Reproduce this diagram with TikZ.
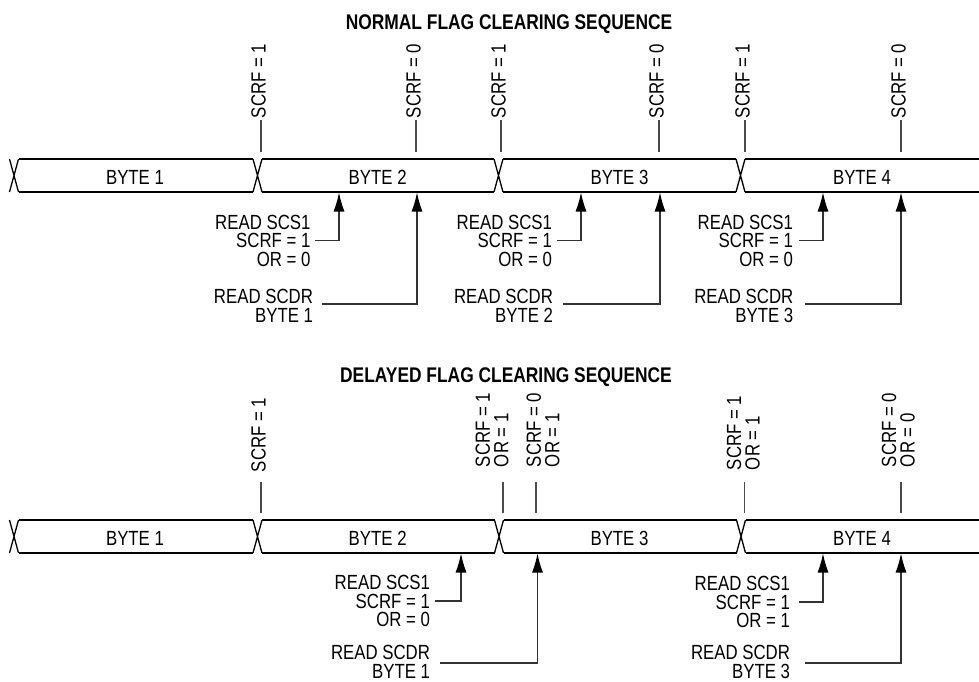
\documentclass[tikz,border=0pt]{standalone}
\usepackage{fontspec}
\setmainfont[FakeStretch=0.82]{Liberation Sans}
\usetikzlibrary{arrows.meta}
\begin{document}
\begin{tikzpicture}[x=1pt,y=-1pt,
  lbl/.style={font=\fontsize{20.5}{18.5}\selectfont, inner sep=0pt, outer sep=0pt},
  rlbl/.style={lbl, align=right, anchor=east},
  vlbl/.style={lbl, align=left, rotate=90, anchor=west},
  ttl/.style={font=\fontsize{21.2}{24}\selectfont\bfseries, inner sep=0pt},
  bus/.style={line width=2pt},
  cross/.style={line width=1.3pt},
  tickln/.style={line width=1.1pt, black!70},
  conn/.style={line width=1.1pt, black!80, -{Latex[length=19pt,width=11pt,color=black]}},
]
\useasboundingbox (0,0) rectangle (979,682);

% ---------------- titles
\node[ttl] (t1) at (509,24.2) {NORMAL FLAG CLEARING SEQUENCE};
\node[ttl] (t2) at (506,377.5) {DELAYED FLAG CLEARING SEQUENCE};

% ---------------- top bus
\draw[cross] (9.5,159) -- (18.5,192) (18.5,159) -- (9.5,192);
\draw[cross] (253,159) -- (262,192) (262,159) -- (253,192);
\draw[cross] (494,159) -- (503,192) (503,159) -- (494,192);
\draw[cross] (736,159) -- (745,192) (745,159) -- (736,192);
\draw[bus] (18.5,159) -- (253,159) (18.5,192) -- (253,192);
\draw[bus] (262,159) -- (494,159) (262,192) -- (494,192);
\draw[bus] (503,159) -- (736,159) (503,192) -- (736,192);
\draw[bus] (745,159) -- (979,159) (745,192) -- (979,192);
\node[lbl] (nb1) at (135,177) {BYTE 1};
\node[lbl] (nb2) at (377.7,177) {BYTE 2};
\node[lbl] (nb3) at (619.5,177) {BYTE 3};
\node[lbl] (nb4) at (862,177) {BYTE 4};

% top ticks and vertical labels
\foreach \x/\v [count=\i] in {261/1,416/0,501/1,659/0,745/1,901/0}{
  \node[vlbl] (nv\i) at (\x-2.5,118) {SCRF = \v};
  \coordinate (nka\i) at (\x,120);
  \coordinate (nkb\i) at (\x,152);
  \draw[tickln] (nka\i) -- (nkb\i);
}

% top read labels
\node[rlbl] (na1) at (310.5,240.5) {READ SCS1\\SCRF = 1\\OR = 0};
\node[rlbl] (nd1) at (313,306) {READ SCDR\\BYTE 1};
\node[rlbl] (na2) at (552,240.5) {READ SCS1\\SCRF = 1\\OR = 0};
\node[rlbl] (nd2) at (553,306) {READ SCDR\\BYTE 2};
\node[rlbl] (na3) at (793,240.5) {READ SCS1\\SCRF = 1\\OR = 0};
\node[rlbl] (nd3) at (793.3,306) {READ SCDR\\BYTE 3};
\coordinate (npa1) at (339,192.5);
\coordinate (npd1) at (417,192.5);
\coordinate (npa2) at (581,192.5);
\coordinate (npd2) at (660,192.5);
\coordinate (npa3) at (823,192.5);
\coordinate (npd3) at (901,192.5);
\draw[conn] ([xshift=4.5pt]na1.east) -| (npa1);
\draw[conn] ([xshift=9pt,yshift=2pt]nd1.east) -| (npd1);
\draw[conn] ([xshift=5pt]na2.east) -| (npa2);
\draw[conn] ([xshift=10pt,yshift=2pt]nd2.east) -| (npd2);
\draw[conn] ([xshift=6pt]na3.east) -| (npa3);
\draw[conn] ([xshift=11.7pt,yshift=2pt]nd3.east) -| (npd3);

% ---------------- bottom bus
\draw[cross] (9.5,520) -- (18.5,553) (18.5,520) -- (9.5,553);
\draw[cross] (253,520) -- (262,553) (262,520) -- (253,553);
\draw[cross] (494.5,520) -- (503.5,553) (503.5,520) -- (494.5,553);
\draw[cross] (736.5,520) -- (745.5,553) (745.5,520) -- (736.5,553);
\draw[bus] (18.5,520) -- (253,520) (18.5,553) -- (253,553);
\draw[bus] (262,520) -- (494.5,520) (262,553) -- (494.5,553);
\draw[bus] (503.5,520) -- (736.5,520) (503.5,553) -- (736.5,553);
\draw[bus] (745.5,520) -- (979,520) (745.5,553) -- (979,553);
\node[lbl] (db1) at (135,538) {BYTE 1};
\node[lbl] (db2) at (377.7,538) {BYTE 2};
\node[lbl] (db3) at (619.5,538) {BYTE 3};
\node[lbl] (db4) at (862,538) {BYTE 4};

% bottom ticks and vertical labels
\node[vlbl] (dv1) at (258.5,472) {SCRF = 1};
\node[vlbl] (dv2) at (492,467) {SCRF = 1\\OR = 1};
\node[vlbl] (dv3) at (543,467) {SCRF = 0\\OR = 1};
\node[vlbl] (dv4) at (743.4,470) {SCRF = 1\\OR = 1};
\node[vlbl] (dv5) at (898.3,467) {SCRF = 0\\OR = 0};
\foreach \x [count=\i] in {261,503,536,744.5,901}{
  \coordinate (dka\i) at (\x,482);
  \coordinate (dkb\i) at (\x,513);
  \draw[tickln] (dka\i) -- (dkb\i);
}

% bottom read labels
\node[rlbl] (da1) at (430,601) {READ SCS1\\SCRF = 1\\OR = 0};
\node[rlbl] (dd1) at (430,662) {READ SCDR\\BYTE 1};
\node[rlbl] (da2) at (790,602) {READ SCS1\\SCRF = 1\\OR = 1};
\node[rlbl] (dd2) at (790,662) {READ SCDR\\BYTE 3};
\coordinate (dpa1) at (461,553.5);
\coordinate (dpd1) at (537.5,553.5);
\coordinate (dpa2) at (823,553.5);
\coordinate (dpd2) at (901,553.5);
\draw[conn] ([xshift=5pt]da1.east) -| (dpa1);
\draw[conn] ([xshift=10pt,yshift=-1pt]dd1.east) -| (dpd1);
\draw[conn] ([xshift=9pt]da2.east) -| (dpa2);
\draw[conn] ([xshift=15pt,yshift=-1pt]dd2.east) -| (dpd2);
\end{tikzpicture}
\end{document}
